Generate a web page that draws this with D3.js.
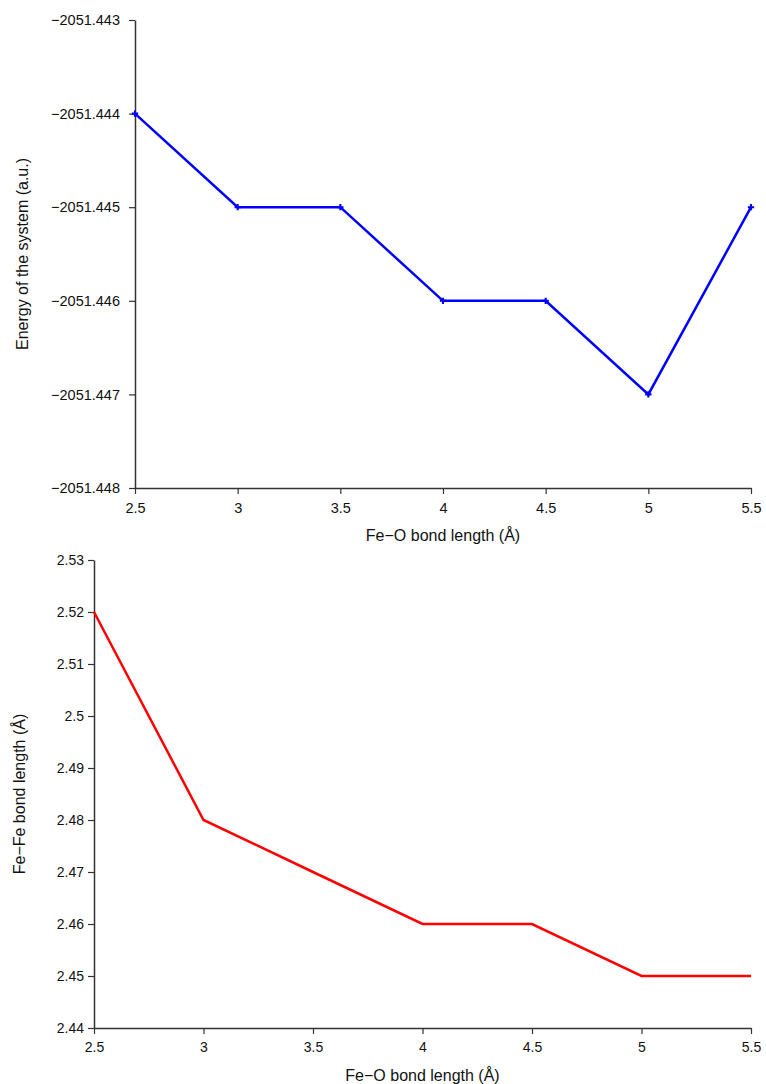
<!DOCTYPE html>
<html>
<head>
<meta charset="utf-8">
<script src="https://cdn.jsdelivr.net/npm/d3@7"></script>
<style>
  body { margin: 0; background: #fff; }
  svg text { font-family: "Liberation Sans", Arial, sans-serif; fill: #111; }
</style>
</head>
<body>
<div id="chart"></div>
<script>
// data
const bondLength = [2.5, 3, 3.5, 4, 4.5, 5, 5.5]
const energy = [-2051.444, -2051.445, -2051.445, -2051.446, -2051.446, -2051.447, -2051.445]
const feFe = [2.52, 2.48, 2.47, 2.46, 2.46, 2.45, 2.45]
const xTicks = [2.5, 3, 3.5, 4, 4.5, 5, 5.5]
const energyTicks = [-2051.443, -2051.444, -2051.445, -2051.446, -2051.447, -2051.448]
const feTicks = [2.53, 2.52, 2.51, 2.5, 2.49, 2.48, 2.47, 2.46, 2.45, 2.44]

const svg = d3.select("#chart")
  .append("svg")
    .attr("width", 766)
    .attr("height", 1084)

function panel(opts) {
  const x = d3.scaleLinear().domain([2.5, 5.5]).range([opts.left, opts.right])
  const y = d3.scaleLinear().domain(opts.yDomain).range([opts.bottom, opts.top])
  const g = svg.append("g")

  const xa = g.append("g")
    .attr("transform", `translate(0,${opts.bottom})`)
    .call(d3.axisBottom(x).tickValues(xTicks).tickFormat(d3.format("")).tickSize(6).tickSizeOuter(0))
  const ya = g.append("g")
    .attr("transform", `translate(${opts.left},0)`)
    .call(d3.axisLeft(y).tickValues(opts.yTicks).tickFormat(opts.fmt).tickSize(6).tickSizeOuter(0))
  ;[xa, ya].forEach(a => {
    a.select(".domain").attr("stroke", "#333").attr("stroke-width", 1.5)
    a.selectAll(".tick line").attr("stroke", "#333").attr("stroke-width", 1.2)
    a.selectAll("text").style("font-size", opts.fontSize).attr("fill", "#111")
  })
  xa.selectAll("text").attr("dy", "1.1em")
  ya.selectAll("text").attr("x", opts.labelOffset)

  const pts = bondLength.map((b, i) => [b, opts.values[i]])
  g.append("path")
    .datum(pts)
    .attr("fill", "none")
    .attr("stroke", opts.color)
    .attr("stroke-width", 2.5)
    .attr("d", d3.line().x(d => x(d[0])).y(d => y(d[1])))

  if (opts.markers) {
    const sym = d3.symbol().type(d3.symbolCross).size(22)
    g.selectAll(".mk")
      .data(pts.filter((d, i) => opts.markers.includes(i)))
      .join("path")
        .attr("transform", d => `translate(${x(d[0])},${y(d[1])})`)
        .attr("d", sym)
        .attr("fill", opts.color)
  }

  g.append("text")
    .attr("x", (opts.left + opts.right) / 2)
    .attr("y", opts.bottom + 53)
    .attr("text-anchor", "middle")
    .style("font-size", "16px")
    .text("Fe\u2212O bond length (Å)")

  g.append("text")
    .attr("transform", `translate(${opts.yLabelX},${(opts.top + opts.bottom) / 2}) rotate(-90)`)
    .attr("text-anchor", "middle")
    .style("font-size", "16px")
    .text(opts.yLabel)
}

panel({
  left: 135, right: 751, top: 20, bottom: 488,
  yDomain: [-2051.448, -2051.443], yTicks: energyTicks, fmt: d3.format(".3f"),
  values: energy, color: "#0000ff", markers: [0, 1, 2, 3, 4, 5, 6],
  yLabel: "Energy of the system (a.u.)", yLabelX: 28, labelOffset: -15, fontSize: "14.5px"
})

panel({
  left: 94, right: 751, top: 560, bottom: 1028,
  yDomain: [2.44, 2.53], yTicks: feTicks, fmt: d3.format(""),
  values: feFe, color: "#ff0000", markers: null,
  yLabel: "Fe\u2212Fe bond length (Å)", yLabelX: 25, labelOffset: -10, fontSize: "14px"
})
</script>
</body>
</html>
